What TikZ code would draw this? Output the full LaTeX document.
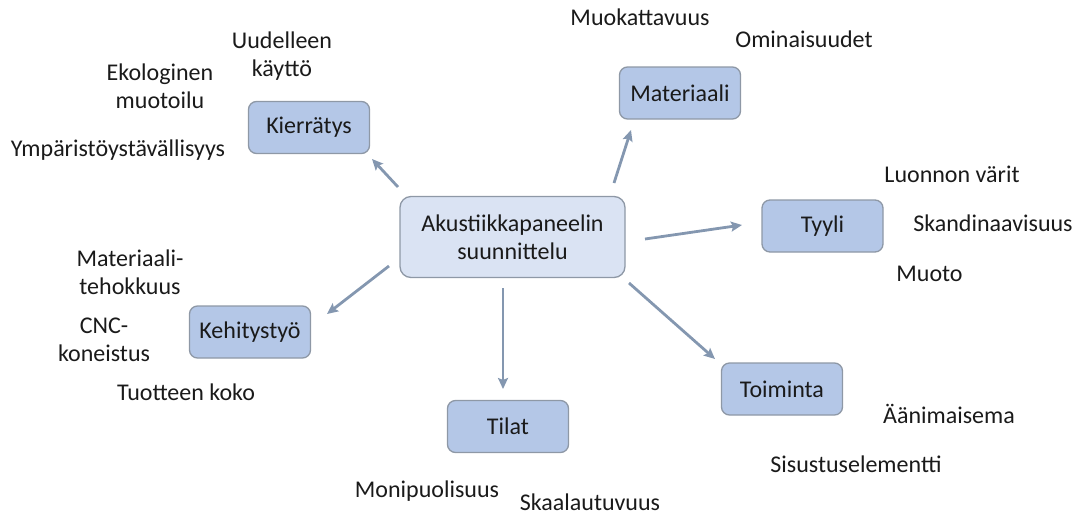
\documentclass[tikz,border=0pt]{standalone}
\usepackage{fontspec}
\setmainfont{Carlito}
\usetikzlibrary{arrows.meta}
\definecolor{boxfill}{HTML}{B4C7E7}
\definecolor{centerfill}{HTML}{DAE3F3}
\definecolor{boxline}{HTML}{8E98A6}
\definecolor{arrowcol}{HTML}{8497B0}
\definecolor{txt}{HTML}{1A1A1A}
\tikzset{
  topic/.style={draw=boxline, line width=1.3pt, fill=boxfill, rounded corners=8pt,
    minimum width=121pt, minimum height=52pt, inner sep=0pt, text=txt,
    font=\fontsize{24}{28}\selectfont},
  hub/.style={draw=boxline, line width=1.3pt, fill=centerfill, rounded corners=11pt,
    minimum width=225pt, minimum height=81pt, inner sep=0pt, align=center, text=txt,
    font=\fontsize{24}{28}\selectfont},
  lbl/.style={anchor=base, align=center, inner sep=0pt, text=txt,
    font=\fontsize{24}{28}\selectfont},
  conn/.style={draw=arrowcol, line width=2.8pt,
    -{Stealth[length=11pt,width=10pt,inset=2pt]}},
}
\begin{document}
\begin{tikzpicture}[x=1pt,y=-1pt]
\useasboundingbox (0,0) rectangle (1082,515);

% boxes
\node[hub] (c) at (512.5,237) {Akustiikkapaneelin\\suunnittelu};
\node[topic] (kie) at (309,127.5) {Kierrätys};
\node[topic] (mat) at (680,93) {Materiaali};
\node[topic] (tyy) at (822.5,226) {Tyyli};
\node[topic] (keh) at (250,332) {Kehitystyö};
\node[topic] (til) at (508,426.5) {Tilat};
\node[topic] (toi) at (782,389) {Toiminta};

% arrow ends
\coordinate (kieS) at (398,187);  \coordinate (kieE) at (372,159);
\coordinate (matS) at (614,183);  \coordinate (matE) at (631,130);
\coordinate (tyyS) at (645,239);  \coordinate (tyyE) at (742,225);
\coordinate (kehS) at (389,266);  \coordinate (kehE) at (327,314);
\coordinate (tilS) at (503,288);  \coordinate (tilE) at (503,389);
\coordinate (toiS) at (629,283);  \coordinate (toiE) at (715,359);

\draw[conn] (kieS) -- (kieE);
\draw[conn] (matS) -- (matE);
\draw[conn] (tyyS) -- (tyyE);
\draw[conn] (kehS) -- (kehE);
\draw[conn] (tilS) -- (tilE);
\draw[conn] (toiS) -- (toiE);

% labels (multi-line: base = last line)
\node[lbl] (l1) at (640,25) {Muokattavuus};
\node[lbl] (l2) at (804,47) {Ominaisuudet};
\node[lbl] (l3) at (282,76) {Uudelleen\\käyttö};
\node[lbl] (l4) at (160,108) {Ekologinen\\muotoilu};
\node[lbl] (l5) at (118,156) {Ympäristöystävällisyys};
\node[lbl] (l6) at (952,182) {Luonnon värit};
\node[lbl] (l7) at (993,231) {Skandinaavisuus};
\node[lbl] (l8) at (929.5,281) {Muoto};
\node[lbl] (l9) at (130,294) {Materiaali-\\tehokkuus};
\node[lbl] (l10) at (104,361) {CNC-\\koneistus};
\node[lbl] (l11) at (186,400) {Tuotteen koko};
\node[lbl] (l12) at (949,423) {Äänimaisema};
\node[lbl] (l13) at (856,472) {Sisustuselementti};
\node[lbl] (l14) at (427,497) {Monipuolisuus};
\node[lbl] (l15) at (590,510) {Skaalautuvuus};
\end{tikzpicture}
\end{document}
